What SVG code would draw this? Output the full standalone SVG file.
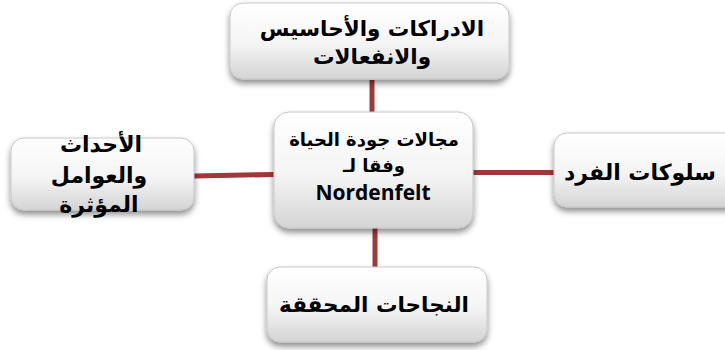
<svg xmlns="http://www.w3.org/2000/svg" width="725" height="350" viewBox="0 0 725 350">
  <defs>
    <linearGradient id="boxFill" x1="0" y1="0" x2="0" y2="1">
      <stop offset="0" stop-color="#ffffff"/>
      <stop offset="0.55" stop-color="#f4f4f4"/>
      <stop offset="1" stop-color="#d4d4d4"/>
    </linearGradient>
    <filter id="shadow" x="-10%" y="-10%" width="120%" height="135%">
      <feGaussianBlur in="SourceAlpha" stdDeviation="3"/>
      <feOffset dx="0" dy="4" result="blur"/>
      <feComponentTransfer><feFuncA type="linear" slope="0.45"/></feComponentTransfer>
      <feMerge><feMergeNode/><feMergeNode in="SourceGraphic"/></feMerge>
    </filter>
    <style>
      .box { fill: url(#boxFill); stroke: #c8c8c8; stroke-width: 1; filter: url(#shadow); }
      .link { stroke: #a0383a; stroke-width: 5; fill: none; }
      .ar { font-family: "DejaVu Sans", "Liberation Sans", sans-serif; font-weight: bold; fill: #000; text-anchor: middle; direction: rtl; }
      .lat { font-family: "Open Sans", "Liberation Sans", sans-serif; font-weight: bold; fill: #000; text-anchor: middle; }
    </style>
  </defs>

  <rect width="725" height="350" fill="#ffffff"/>

  <!-- connectors from the central box to each domain -->
  <g id="connectors">
    <line class="link" x1="372" y1="80" x2="372" y2="113"/>
    <line class="link" x1="194" y1="176" x2="274" y2="174.5"/>
    <line class="link" x1="473" y1="172.5" x2="554" y2="172.5"/>
    <line class="link" x1="375" y1="228" x2="375" y2="267"/>
  </g>

  <g id="node-perceptions">
    <rect class="box" x="230" y="3" width="279" height="76" rx="13"/>
    <text class="ar" x="372" y="36" font-size="21.5">الادراكات والأحاسيس</text>
    <text class="ar" x="372" y="64" font-size="21.5">والانفعالات</text>
  </g>

  <g id="node-events">
    <rect class="box" x="11" y="138" width="183" height="72" rx="13"/>
    <text class="ar" x="101" y="152" font-size="22">الأحداث</text>
    <text class="ar" x="99" y="183" font-size="22">والعوامل</text>
    <text class="ar" x="99" y="212" font-size="22">المؤثرة</text>
  </g>

  <g id="node-center">
    <rect class="box" x="274" y="112" width="199" height="116" rx="15"/>
    <text class="ar" x="374" y="146" font-size="18">مجالات جودة الحياة</text>
    <text class="ar" x="374" y="172" font-size="18">وفقا لـ</text>
    <text class="lat" x="373" y="200" font-size="21">Nordenfelt</text>
  </g>

  <g id="node-behaviour">
    <rect class="box" x="554" y="133" width="185" height="74" rx="13"/>
    <text class="ar" x="640" y="180" font-size="22">سلوكات الفرد</text>
  </g>

  <g id="node-achievements">
    <rect class="box" x="267" y="267" width="220" height="75" rx="13"/>
    <text class="ar" x="374" y="312" font-size="21.5">النجاحات المحققة</text>
  </g>
</svg>
